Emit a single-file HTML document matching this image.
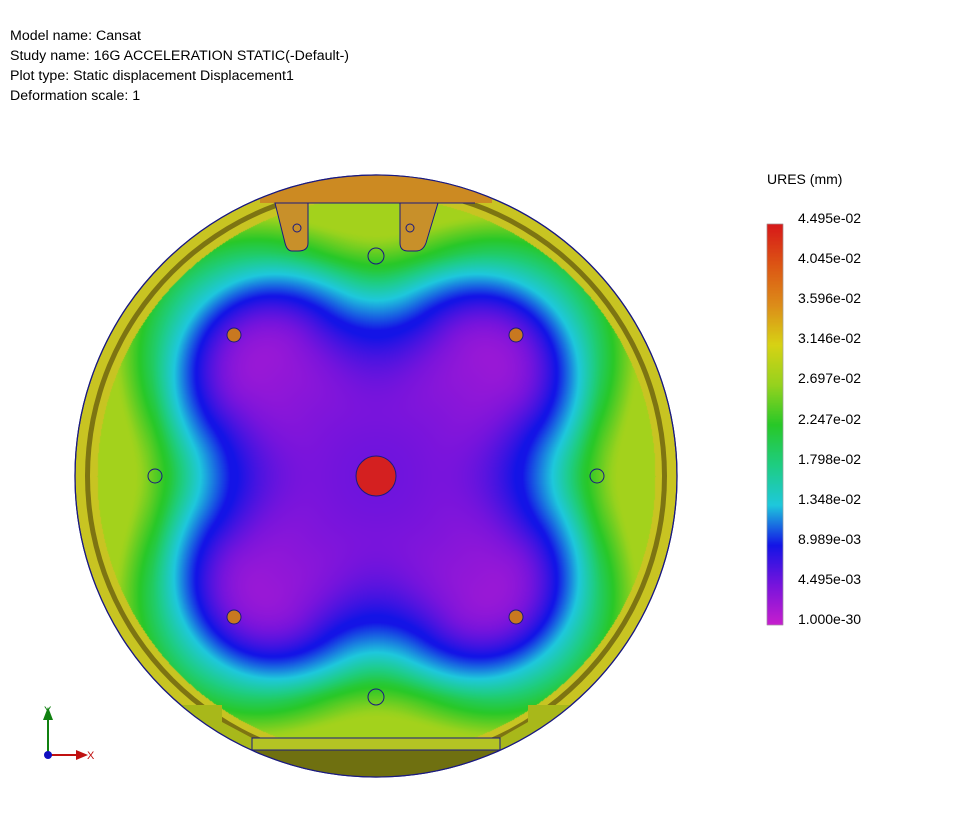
<!DOCTYPE html>
<html><head><meta charset="utf-8"><style>
body{margin:0;background:#fff;width:959px;height:823px;position:relative;overflow:hidden;font-family:"Liberation Sans",sans-serif;}
.hdr{position:absolute;left:10px;font-size:14.2px;color:#000;line-height:20px}
.abs{position:absolute;left:0;top:0}
.lbl{position:absolute;left:798px;font-size:14px;color:#000}
</style></head><body>
<div class="hdr" style="top:26px">Model name: Cansat<br>Study name: 16G ACCELERATION STATIC(-Default-)<br>Plot type: Static displacement Displacement1<br>Deformation scale: 1</div>

<svg class="abs" width="959" height="823">
  <circle cx="376" cy="476" r="301" fill="#c8c422" stroke="#1a1a80" stroke-width="1.2"/>
  <circle cx="376" cy="476" r="291" fill="#7d7412"/>
  <circle cx="376" cy="476" r="286" fill="#c8c422"/>
</svg>
<canvas id="field" class="abs" width="959" height="823"></canvas>
<svg class="abs" width="959" height="823">
  <defs><clipPath id="oc"><circle cx="376" cy="476" r="301"/></clipPath></defs>
  <g clip-path="url(#oc)">
    <rect x="260" y="170" width="232" height="33" fill="#cc8a22"/>
    <path d="M275,203 L308,203 L308,243 Q308,251 298,251 L292,251 Q287,251 285,243 Z" fill="#c8902a" stroke="#1a1a80" stroke-width="1"/>
    <path d="M400,203 L438,203 L426,243 Q423,251 416,251 L408,251 Q400,251 400,243 Z" fill="#c8902a" stroke="#1a1a80" stroke-width="1"/>
    <line x1="277" y1="203" x2="475" y2="203" stroke="#1a1a80" stroke-width="1"/>
    <path d="M90,705 L222,705 L222,722 L252,738 L252,760 L90,760 Z" fill="#a8b81a"/>
    <path d="M662,705 L528,705 L528,722 L500,738 L500,760 L662,760 Z" fill="#a8b81a"/>
    <rect x="200" y="750" width="350" height="40" fill="#6f7010"/>
    <rect x="252" y="738" width="248" height="12" fill="#b4c424" stroke="#1a1a80" stroke-width="1"/>
  </g>
  <circle cx="376" cy="476" r="301" fill="none" stroke="#1a1a80" stroke-width="1.2"/>
  <circle cx="376" cy="476" r="20" fill="#d42020" stroke="#1a1a80"/>
  <circle cx="234" cy="335" r="7" fill="#c87820" stroke="#1a1a80"/>
  <circle cx="516" cy="335" r="7" fill="#c87820" stroke="#1a1a80"/>
  <circle cx="234" cy="617" r="7" fill="#c87820" stroke="#1a1a80"/>
  <circle cx="516" cy="617" r="7" fill="#c87820" stroke="#1a1a80"/>
  <circle cx="155" cy="476" r="7" fill="none" stroke="#1a1a80"/>
  <circle cx="597" cy="476" r="7" fill="none" stroke="#1a1a80"/>
  <circle cx="376" cy="256" r="8" fill="none" stroke="#1a1a80"/>
  <circle cx="376" cy="697" r="8" fill="none" stroke="#1a1a80"/>
  <circle cx="297" cy="228" r="4" fill="none" stroke="#1a1a80"/>
  <circle cx="410" cy="228" r="4" fill="none" stroke="#1a1a80"/>
  <g>
    <line x1="48" y1="755" x2="48" y2="718" stroke="#108010" stroke-width="2"/>
    <polygon points="43,720 53,720 48,707" fill="#108010"/>
    <text x="44" y="714" font-size="11" fill="#108010" font-family="Liberation Sans">Y</text>
    <line x1="48" y1="755" x2="78" y2="755" stroke="#c01010" stroke-width="2"/>
    <polygon points="76,750 76,760 88,755" fill="#c01010"/>
    <text x="87" y="759" font-size="11" fill="#c01010" font-family="Liberation Sans">X</text>
    <circle cx="48" cy="755" r="4" fill="#1010c0"/>
  </g>
  <text x="767" y="184" font-size="14" font-family="Liberation Sans">URES (mm)</text>
  <rect id="cbar" x="767" y="224" width="16" height="401" fill="none" stroke="#888" stroke-width="0.5"/>
</svg>
<div id="labels"></div>
<script>
const tickLabels=["4.495e-02","4.045e-02","3.596e-02","3.146e-02","2.697e-02","2.247e-02","1.798e-02","1.348e-02","8.989e-03","4.495e-03","1.000e-30"];
const tickFractions=[1,0.9,0.8,0.7,0.6,0.5,0.4,0.3,0.2,0.1,0];
const stops=[[0,[200,30,205]],[0.1,[120,20,220]],[0.2,[20,20,230]],[0.3,[30,200,220]],[0.4,[30,205,130]],[0.5,[40,200,40]],[0.6,[150,210,30]],[0.7,[215,210,20]],[0.8,[220,140,25]],[0.9,[220,85,20]],[1,[215,25,25]]];
function cmap(t){t=Math.max(0,Math.min(1,t));for(let i=1;i<stops.length;i++){if(t<=stops[i][0]){const a=stops[i-1],b=stops[i],f=(t-a[0])/(b[0]-a[0]);return a[1].map((c,k)=>Math.round(c+(b[1][k]-c)*f));}}return stops[stops.length-1][1];}
const barTop=224,barH=401;
const yOf=f=>barTop+barH*(1-f);
const lab=document.getElementById('labels');
tickLabels.forEach((s,i)=>{const d=document.createElement('div');d.className='lbl';d.style.top=(yOf(tickFractions[i])-14)+'px';d.textContent=s;


lab.appendChild(d);});
const cv=document.getElementById('field'),ctx=cv.getContext('2d');
for(let y=0;y<barH;y++){const c=cmap(1-y/barH);ctx.fillStyle='rgb('+c.join(',')+')';ctx.fillRect(767,barTop+y,16,1);}
const cx=376,cy=476,R=279,L=150,k=45,VB=72;
function segd(px,py,dx,dy){const t=Math.max(-L,Math.min(L,(px*dx+py*dy)));const qx=px-t*dx,qy=py-t*dy;return Math.hypot(qx,qy);}
const img=ctx.getImageData(0,0,959,823);const D=img.data;const s=Math.SQRT1_2;
for(let y=cy-R;y<=cy+R;y++)for(let x=cx-R;x<=cx+R;x++){const px=x-cx,py=y-cy,r=Math.hypot(px,py);if(r>R)continue;
const d1=segd(px,py,s,s),d2=segd(px,py,s,-s);const v=-k*Math.log(Math.exp(-d1/k)+Math.exp(-d2/k));
let t;
if(v<VB){t=Math.min(0.2,0.04+0.16*Math.pow(Math.max(v,0)/VB,2.5)+0.07*Math.exp(-((r/140)**2)));}
else{t=0.2+(v-VB)*0.0047;}
const th=Math.atan2(py,px);
if(t>0.3){t+=0.1*((1+Math.cos(4*th))/2)*Math.min(1,(r/230)**2)*Math.min(1,(t-0.3)/0.1);}
t=Math.min(t,0.62);
const c=cmap(t);const i=(y*959+x)*4;D[i]=c[0];D[i+1]=c[1];D[i+2]=c[2];D[i+3]=255;}
ctx.putImageData(img,0,0);
</script>
</body></html>
